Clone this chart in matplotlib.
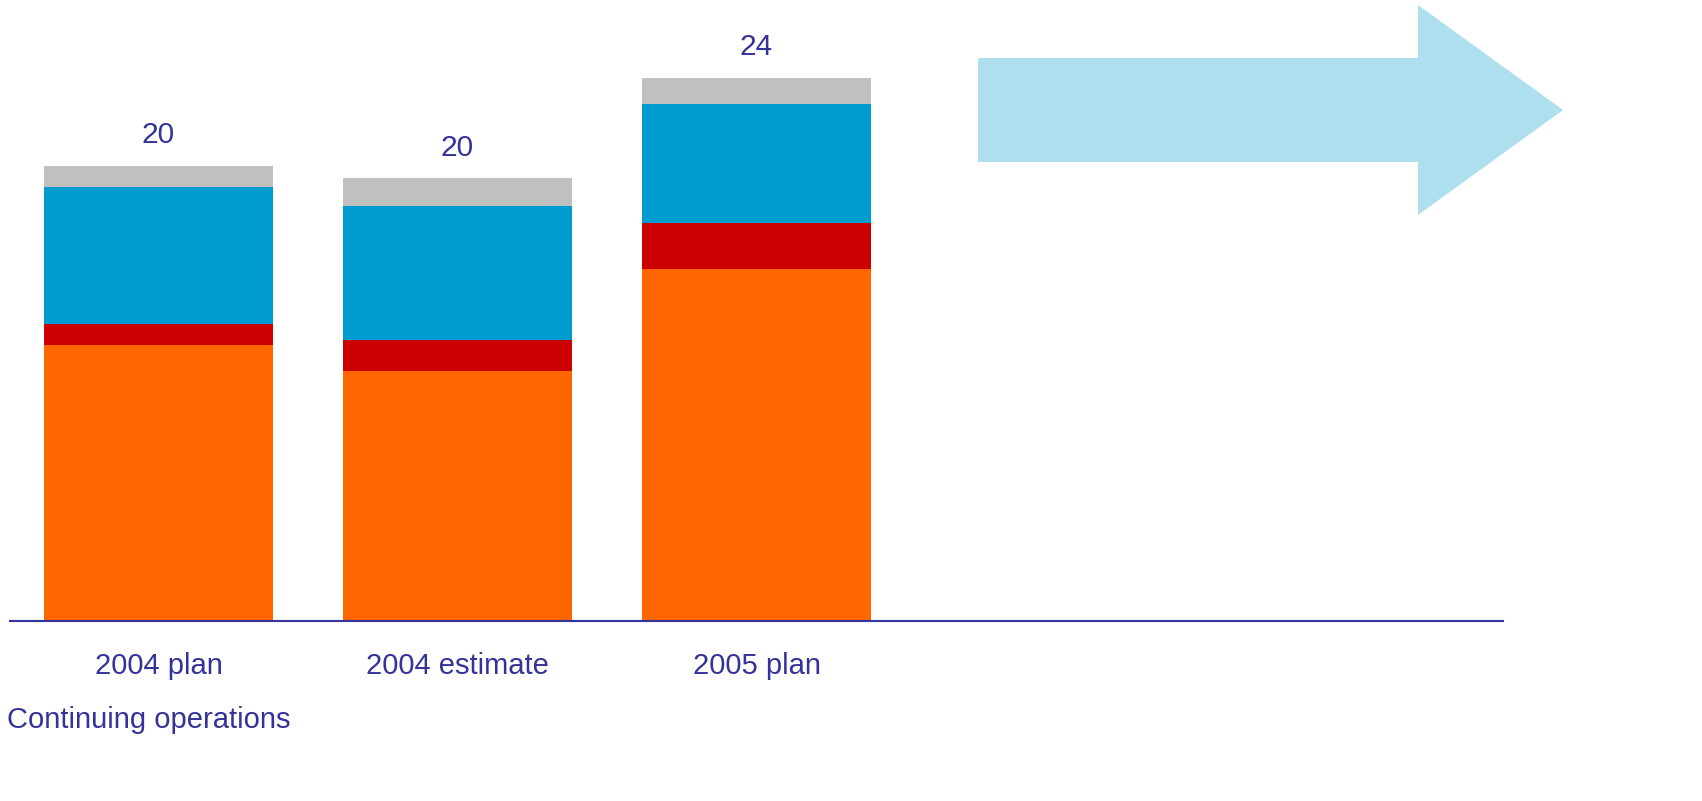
import numpy as np
import matplotlib.pyplot as plt
from matplotlib.patches import Polygon

plt.rcParams['font.family'] = ['Liberation Sans', 'DejaVu Sans']

categories = ['2004 plan', '2004 estimate', '2005 plan']
orange = [12.1, 10.96, 15.44]
red = [0.92, 1.36, 2.02]
blue = [6.0, 5.88, 5.22]
gray = [0.96, 1.23, 1.14]
totals = ['20', '20', '24']

txt = '#333399'
fig = plt.figure(figsize=(17.02, 8.01), dpi=100)
ax = fig.add_axes([0, 0, 1, 1])
ax.set_xlim(-0.530, 5.162)
ax.set_ylim(-7.89, 27.24)
ax.axis('off')

x = np.arange(len(categories))
w = 0.766
bottom = np.zeros(len(categories))
for vals, col in [(orange, '#FF6600'), (red, '#CC0000'), (blue, '#009CCF'), (gray, '#C0C0C0')]:
    ax.bar(x, vals, w, bottom=bottom, color=col, linewidth=0)
    bottom += np.array(vals)

for xi, top, lab in zip(x, bottom, totals):
    ax.annotate(lab, (xi, top), xytext=(0, 22), textcoords='offset points',
                ha='center', va='center', fontsize=21.5, color=txt)

for xi, lab in zip(x, categories):
    ax.text(xi, -1.95, lab, ha='center', va='center', fontsize=21, color=txt)

ax.axhline(0, xmin=10/1702, xmax=1503/1702, color=txt, lw=1.5)

ax.text(7/1702, 1 - 720/801, 'Continuing operations', transform=ax.transAxes,
        ha='left', va='center', fontsize=21, color=txt)

# decorative arrow, in pixel fractions
pts = [(978, 58), (1418, 58), (1418, 5), (1563, 110), (1418, 215), (1418, 162), (978, 162)]
pts = [(px / 1702, 1 - py / 801) for px, py in pts]
ax.add_patch(Polygon(pts, closed=True, transform=ax.transAxes, color='#ADDFEE', lw=0))

fig.savefig('out.png', dpi=100)
